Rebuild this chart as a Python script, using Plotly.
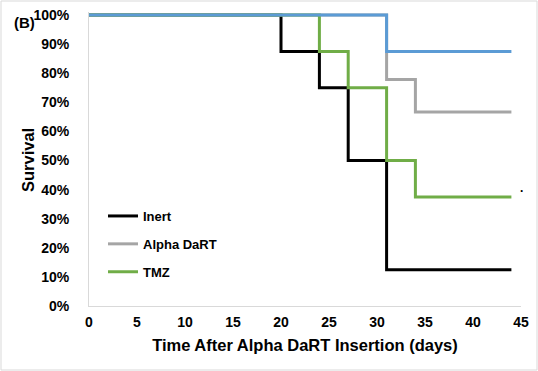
import plotly.graph_objects as go

# Kaplan-Meier step data (day, survival fraction)
inert_days = [0, 20, 24, 27, 31, 44]
inert_surv = [1.0, 0.875, 0.75, 0.5, 0.125, 0.125]

alpha_days = [0, 31, 34, 44]
alpha_surv = [1.0, 0.778, 0.667, 0.667]

tmz_days = [0, 24, 27, 31, 34, 44]
tmz_surv = [1.0, 0.875, 0.75, 0.5, 0.375, 0.375]

blue_days = [0, 31, 44]
blue_surv = [1.0, 0.875, 0.875]

x_ticks = [0, 5, 10, 15, 20, 25, 30, 35, 40, 45]
y_ticks = [0, 0.1, 0.2, 0.3, 0.4, 0.5, 0.6, 0.7, 0.8, 0.9, 1.0]

FONT = "Liberation Sans, Arial, sans-serif"

L, R, T, B = 89, 17, 12, 65
W, H = 538, 371
PW, PH = W - L - R, H - T - B
YMAX = 1.0 + 3 / 291

fig = go.Figure()
series = [
    ("Inert", inert_days, inert_surv, "#000000", True),
    ("Alpha DaRT", alpha_days, alpha_surv, "#a5a5a5", True),
    ("TMZ", tmz_days, tmz_surv, "#70ad47", True),
    ("", blue_days, blue_surv, "#5b9bd5", False),
]
for i, (name, xs, ys, col, show) in enumerate(series):
    fig.add_trace(go.Scatter(
        x=xs, y=ys, mode="lines", name=name, line=dict(color=col, width=3, shape="hv"),
        showlegend=show, legendgroup=f"g{i}", hoverinfo="skip"))

fig.add_annotation(x=45, y=tmz_surv[-1], xref="x", yref="y", text=".", showarrow=False,
                   font=dict(family=FONT, size=12, color="#000"), xanchor="center", yanchor="bottom")
fig.add_annotation(x=(24 - L) / PW, y=(H - B - 22) / PH, xref="paper", yref="paper", text="(B)",
                   showarrow=False, xanchor="center", yanchor="middle",
                   font=dict(family=FONT, size=15, color="#000", weight="bold"))
fig.add_annotation(x=(28 - L) / PW, y=(H - B - 160) / PH, xref="paper", yref="paper",
                   text="Survival", textangle=-90, showarrow=False,
                   xanchor="center", yanchor="middle",
                   font=dict(family=FONT, size=16.5, color="#000", weight="bold"))

fig.update_layout(
    width=W, height=H,
    margin=dict(l=L, r=R, t=T, b=B, autoexpand=False),
    paper_bgcolor="white", plot_bgcolor="white",
    font=dict(family=FONT, color="#000", weight="bold"),
    legend=dict(x=(103 - L) / PW, y=(H - B - 201) / PH, xanchor="left", yanchor="top",
                bgcolor="rgba(0,0,0,0)",
                font=dict(family=FONT, size=13, weight="bold"), itemwidth=30,
                traceorder="grouped", tracegroupgap=8),
    xaxis=dict(range=[0, 45], tickvals=x_ticks, showgrid=False, zeroline=False,
               showline=True, linecolor="#d9d9d9", linewidth=1, ticks="",
               ticklabelstandoff=3,
               tickfont=dict(family=FONT, size=14, weight="bold"),
               title=dict(text="Time After Alpha DaRT Insertion (days)", standoff=10,
                          font=dict(family=FONT, size=16.5, weight="bold"))),
    yaxis=dict(range=[0, YMAX], tickvals=y_ticks, tickformat=".0%", showgrid=False, zeroline=False,
               showline=True, linecolor="#d9d9d9", linewidth=1, ticks="",
               ticklabelstandoff=16,
               tickfont=dict(family=FONT, size=14, weight="bold")),
    shapes=[dict(type="rect", xref="paper", yref="paper", x0=-(L - 1) / PW, x1=1 + (R - 1) / PW,
                 y0=-(B - 1) / PH, y1=1 + (T - 1) / PH, line=dict(color="#d9d9d9", width=1))],
)
fig.write_html("out.html", config={"displayModeBar": False},
               post_script="document.body.style.margin='0';")
